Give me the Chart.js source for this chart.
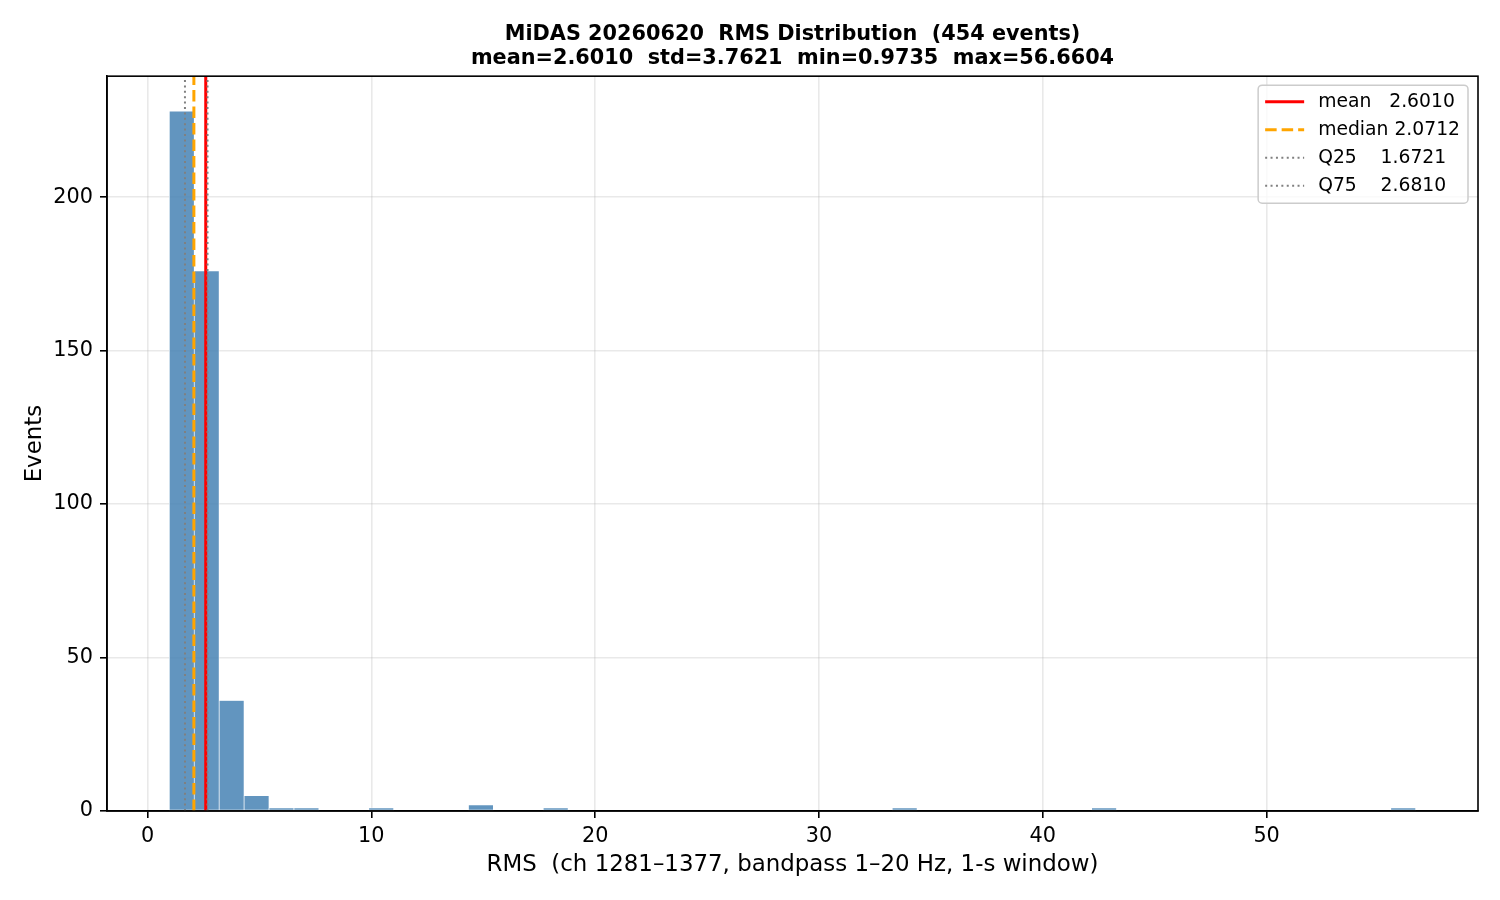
<!DOCTYPE html>
<html>
<head>
<meta charset="utf-8">
<title>MiDAS RMS Distribution</title>
<script src="https://cdn.jsdelivr.net/npm/chart.js@4.4.1/dist/chart.umd.min.js"></script>
<style>
	html, body { margin: 0; padding: 0; background: #fff; }
	#wrap { width: 1500px; height: 900px; }
</style>
</head>
<body>
<div id="wrap"><canvas id="rmsHist"></canvas></div>
<script>
// 50 equal-width bins between the smallest and largest RMS
const rmsMin = 0.9735;
const rmsMax = 56.6604;
const binCounts = [
	228, 176, 36, 5, 1, 1, 0, 0, 1, 0,
	0, 0, 2, 0, 0, 1, 0, 0, 0, 0,
	0, 0, 0, 0, 0, 0, 0, 0, 0, 1,
	0, 0, 0, 0, 0, 0, 0, 1, 0, 0,
	0, 0, 0, 0, 0, 0, 0, 0, 0, 1,
];

const statNames = ["mean", "median", "Q25", "Q75"];
const statValues = [2.601, 2.0712, 1.6721, 2.681];
const rmsStd = 3.7621;
const nEvents = 454;

const xTicks = [0, 10, 20, 30, 40, 50];
const yTicks = [0, 50, 100, 150, 200];

Chart.defaults.font.family = "'DejaVu Sans', sans-serif";
Chart.defaults.color = "#000";

const binWidth = (rmsMax - rmsMin) / binCounts.length;
const histPoints = binCounts.map((c, i) => ({ x: rmsMin + (i + 0.5) * binWidth, y: c }));

// matplotlib-like margins around the data
const xMin = rmsMin - 0.05 * (rmsMax - rmsMin);
const xMax = rmsMax + 0.05 * (rmsMax - rmsMin);
const yMax = Math.max(...binCounts) * 1.05;

const lineStyles = {
	mean: { color: "#ff0000", width: 3, dash: [] },
	median: { color: "#ffa500", width: 3, dash: [11.5, 5] },
	Q25: { color: "#808080", width: 2, dash: [2, 3.4] },
	Q75: { color: "#808080", width: 2, dash: [2, 3.4] },
};

const statDatasets = statNames.map((name, i) => {
	const st = lineStyles[name];
	return {
		type: "line",
		label: name.padEnd(6) + " " + statValues[i].toFixed(4),
		data: [
			{ x: statValues[i], y: 0 },
			{ x: statValues[i], y: yMax },
		],
		borderColor: st.color,
		borderWidth: st.width,
		borderDash: st.dash,
		borderCapStyle: "butt",
		pointRadius: 0,
		fill: false,
		order: statNames.length - i,
	};
});

const histDataset = {
	type: "bar",
	label: "events",
	data: histPoints,
	backgroundColor: "rgba(70, 130, 180, 0.85)",
	borderColor: "rgba(255, 255, 255, 0.85)",
	borderWidth: 0.7,
	borderSkipped: false,
	barPercentage: 1,
	categoryPercentage: 1,
	order: 10,
};

// frame on all four sides, legend in the upper right, title over the plot area
const axesDecor = {
	id: "axesDecor",
	afterLayout(chart) {
		chart.titleBlock.left = chart.chartArea.left;
		chart.titleBlock.right = chart.chartArea.right;
	},
	afterDraw(chart) {
		const { ctx, chartArea } = chart;
		ctx.save();
		ctx.strokeStyle = "#000";
		ctx.lineWidth = 1.6;
		ctx.strokeRect(chartArea.left, chartArea.top, chartArea.right - chartArea.left, chartArea.bottom - chartArea.top);

		const items = chart.data.datasets.filter((d) => d.type === "line");
		ctx.font = "18.75px 'DejaVu Sans'";
		const textW = Math.max(...items.map((d) => ctx.measureText(d.label).width));
		const boxW = 60 + textW + 8;
		const boxH = 118;
		const x0 = chartArea.right - 10 - boxW;
		const y0 = chartArea.top + 9;
		ctx.beginPath();
		ctx.roundRect(x0, y0, boxW, boxH, 4);
		ctx.fillStyle = "rgba(255,255,255,0.8)";
		ctx.fill();
		ctx.strokeStyle = "#cccccc";
		ctx.lineWidth = 1.5;
		ctx.stroke();

		items.forEach((d, i) => {
			const y = y0 + 16.5 + i * 28;
			ctx.beginPath();
			ctx.setLineDash(d.borderDash);
			ctx.lineCap = "butt";
			ctx.strokeStyle = d.borderColor;
			ctx.lineWidth = d.borderWidth;
			ctx.moveTo(x0 + 7, y);
			ctx.lineTo(x0 + 46, y);
			ctx.stroke();
			ctx.setLineDash([]);
			ctx.fillStyle = "#000";
			ctx.textBaseline = "middle";
			ctx.textAlign = "left";
			ctx.fillText(d.label, x0 + 60, y);
		});
		ctx.restore();
	},
};

const gridColor = "rgba(176, 176, 176, 0.28)";

new Chart(document.getElementById("rmsHist"), {
	type: "bar",
	data: {
		datasets: [...statDatasets, histDataset],
	},
	options: {
		responsive: true,
		maintainAspectRatio: false,
		animation: false,
		events: [],
		layout: { padding: { left: 0, right: 22, top: 0, bottom: 0 } },
		plugins: {
			legend: { display: false },
			tooltip: { enabled: false },
			title: {
				display: true,
				text: [
					`MiDAS 20260620  RMS Distribution  (${nEvents} events)`,
					`mean=${statValues[0].toFixed(4)}  std=${rmsStd.toFixed(4)}  min=${rmsMin.toFixed(4)}  max=${rmsMax.toFixed(4)}`,
				],
				color: "#000",
				font: { size: 20.8, weight: "bold", lineHeight: 1.11 },
				padding: { top: 23.5, bottom: 6.5 },
			},
		},
		scales: {
			x: {
				type: "linear",
				min: xMin,
				max: xMax,
				offset: false,
				z: 1,
				grid: {
					offset: false,
					color: gridColor,
					lineWidth: 1.6,
					tickColor: "#000",
					tickLength: 7,
					tickWidth: 1.6,
				},
				border: { color: "#000", width: 1.6 },
				ticks: { font: { size: 20.8 }, color: "#000", padding: 6.5, maxRotation: 0 },
				afterBuildTicks: (scale) => {
					scale.ticks = xTicks.map((v) => ({ value: v }));
				},
				afterFit: (scale) => {
					scale.height = 89;
				},
				title: {
					display: true,
					text: "RMS  (ch 1281–1377, bandpass 1–20 Hz, 1-s window)",
					color: "#000",
					font: { size: 22.9, lineHeight: 1.2 },
					padding: { top: 0, bottom: 21.3 },
				},
			},
			y: {
				type: "linear",
				min: 0,
				max: yMax,
				z: 1,
				grid: {
					color: gridColor,
					lineWidth: 1.6,
					tickColor: "#000",
					tickLength: 7,
					tickWidth: 1.6,
				},
				border: { color: "#000", width: 1.6 },
				ticks: { font: { size: 20.8 }, color: "#000", padding: 7 },
				afterBuildTicks: (scale) => {
					scale.ticks = yTicks.map((v) => ({ value: v }));
				},
				afterFit: (scale) => {
					scale.width = 107;
				},
				title: {
					display: true,
					text: "Events",
					color: "#000",
					font: { size: 22.9, lineHeight: 1.2 },
					padding: { top: 21.3, bottom: 0 },
				},
			},
		},
	},
	plugins: [axesDecor],
});
</script>
</body>
</html>
